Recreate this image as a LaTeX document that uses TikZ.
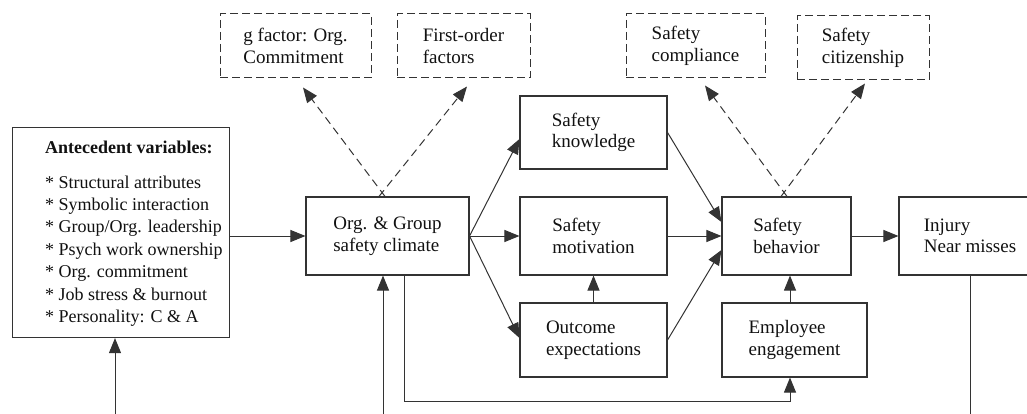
\documentclass[tikz,border=0pt]{standalone}
\usepackage{fontspec}
\setmainfont{Liberation Serif}
\usetikzlibrary{arrows.meta,calc}
\definecolor{linec}{HTML}{333333}
\definecolor{textc}{HTML}{111111}
\begin{document}
\begin{tikzpicture}[x=1pt,y=-1pt,
  box/.style={draw=linec, line width=1.1pt, fill=white, text=textc,
    font=\fontsize{19}{21.5}\selectfont, align=left, inner sep=0pt},
  dbox/.style={box, line width=1pt, dash pattern=on 8pt off 4pt},
  arr/.style={draw=linec, line width=1pt, -{Triangle[length=15pt,width=12pt]}},
  darr/.style={arr, dash pattern=on 8pt off 5pt},
  ln/.style={draw=linec, line width=1pt},
]
\path[use as bounding box] (0,0) rectangle (1027,414);
\clip (0,0) rectangle (1027,414);

% antecedent box
\node[box, minimum width=217pt, minimum height=210pt, anchor=north west] (ant) at (12,127) {};
\node[anchor=north west, align=left, inner sep=0pt, text=textc,
      font=\fontsize{18}{22.4}\selectfont] (anttxt) at (45,141)
  {\textbf{Antecedent variables:}\\[12pt]
   * Structural attributes\\
   * Symbolic interaction\\
   * Group/Org. leadership\\
   * Psych work ownership\\
   * Org. commitment\\
   * Job stress \& burnout\\
   * Personality: C \& A};

% main boxes
\node[box, minimum width=163pt, minimum height=78pt] (clim) at (387.5,236) {Org. \& Group\\safety climate};
\node[box, minimum width=147pt, minimum height=73pt] (know) at (593.5,132.5) {Safety\\knowledge};
\node[box, minimum width=147pt, minimum height=78pt] (mot) at (593.5,236) {Safety\\motivation};
\node[box, minimum width=147pt, minimum height=74pt] (out) at (593.5,340) {Outcome\\expectations};
\node[box, minimum width=129pt, minimum height=78pt] (beh) at (786.5,236) {Safety\\behavior};
\node[box, minimum width=145pt, minimum height=74pt] (eng) at (794.5,340) {Employee\\engagement};
\node[box, minimum width=142pt, minimum height=78pt] (inj) at (970,236) {Injury\\Near misses};

% dashed boxes
\node[dbox, minimum width=151pt, minimum height=64pt] (gfac) at (295.5,46) {g factor: Org.\\Commitment};
\node[dbox, minimum width=133pt, minimum height=64pt] (first) at (463.5,46) {First-order\\factors};
\node[dbox, minimum width=139pt, minimum height=64pt] (comp) at (695.5,46) {Safety\\compliance};
\node[dbox, minimum width=132pt, minimum height=64pt] (cit) at (863,48) {Safety\\citizenship};

% helper coordinates
\coordinate (x404) at (404,0);
\coordinate (x790) at (790,0);
\coordinate (bAnt) at (115,414);
\coordinate (bClim) at (383,414);
\coordinate (bInj) at (970,414);
\coordinate (loop) at (790,401);

% solid arrows
\draw[arr] (ant.east |- clim.west) -- (clim.west);
\draw[arr] (clim.east) -- ([yshift=-6.5pt]know.west);
\draw[arr] (clim.east) -- (mot.west);
\draw[arr] (clim.east) -- ([yshift=2pt]out.west);
\draw[arr] (know.east) -- ([yshift=14pt]beh.west);
\draw[arr] (mot.east) -- (beh.west);
\draw[arr] (out.east) -- ([yshift=-14pt]beh.west);
\draw[arr] (out.north) -- (mot.south);
\draw[arr] (eng.north -| x790) -- (beh.south -| x790);
\draw[arr] (beh.east) -- (inj.west);
\draw[arr] (clim.south -| x404) |- (loop) -- (eng.south -| x790);
\draw[arr] (bAnt) -- (ant.south -| bAnt);
\draw[arr] (bClim) -- (clim.south -| bClim);
\draw[ln] (inj.south) -- (bInj);

% dashed arrows
\draw[darr] ([xshift=-2.5pt]clim.north) -- ([xshift=7.5pt,yshift=-9pt]gfac.south);
\draw[darr] ([xshift=-8.5pt]clim.north) -- ([xshift=3.5pt,yshift=-8pt]first.south);
\draw[darr] ([xshift=0.5pt]beh.north) -- ([xshift=9.5pt,yshift=-7pt]comp.south);
\draw[darr] ([xshift=-5.5pt]beh.north) -- ([xshift=2pt,yshift=-3pt]cit.south);
\end{tikzpicture}
\end{document}
